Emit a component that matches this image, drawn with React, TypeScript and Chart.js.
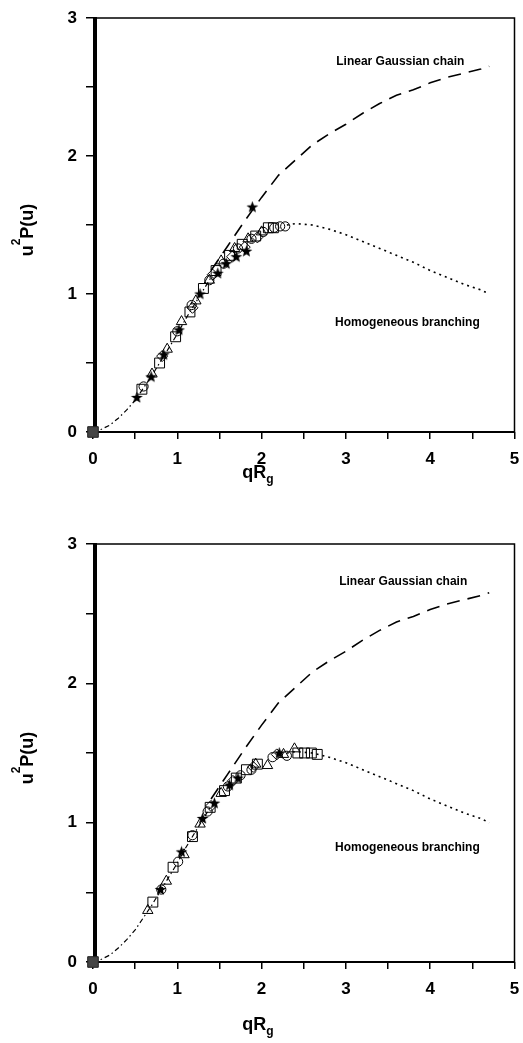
import React, { useEffect, useRef } from 'react';
import { Chart, registerables } from 'chart.js';
Chart.register(...registerables);

const FONT = '"Liberation Sans", Arial, Helvetica, sans-serif';

// ---- model curves (same in both panels) ----
const linearX = [1.4, 1.5, 1.6, 1.8, 2.0, 2.2, 2.4, 2.6, 2.8, 3.0, 3.2, 3.4, 3.6, 3.8, 4.0, 4.2, 4.4, 4.6, 4.7];
const linearY = [1.17, 1.26, 1.35, 1.53, 1.70, 1.86, 1.97, 2.08, 2.16, 2.23, 2.31, 2.38, 2.44, 2.48, 2.53, 2.57, 2.60, 2.63, 2.65];
const branchX = [2.3, 2.4, 2.6, 2.8, 3.0, 3.2, 3.4, 3.6, 3.8, 4.0, 4.2, 4.4, 4.6, 4.7];
const branchY = [1.50, 1.51, 1.50, 1.47, 1.43, 1.38, 1.33, 1.28, 1.23, 1.17, 1.12, 1.07, 1.03, 1.00];
const lowX = [0, 0.1, 0.2, 0.3, 0.4, 0.5, 0.6, 0.7, 0.8, 0.9, 1.0, 1.1, 1.2, 1.3, 1.4];
const lowY = [0, 0.02, 0.05, 0.10, 0.16, 0.23, 0.32, 0.41, 0.51, 0.61, 0.71, 0.82, 0.92, 1.02, 1.12];

// ---- top panel data ----
const topCircleX = [0.60, 1.00, 1.17, 1.38, 1.55, 1.72, 1.88, 2.02, 2.15, 2.22, 2.28];
const topCircleY = [0.33, 0.73, 0.92, 1.10, 1.22, 1.33, 1.40, 1.45, 1.48, 1.49, 1.49];
const topSquareX = [0.58, 0.79, 0.98, 1.15, 1.31, 1.46, 1.62, 1.77, 1.93, 2.08, 2.14];
const topSquareY = [0.31, 0.50, 0.69, 0.87, 1.04, 1.17, 1.28, 1.36, 1.42, 1.48, 1.48];
const topTriX = [0.70, 0.88, 1.05, 1.22, 1.38, 1.52, 1.68, 1.84, 2.00];
const topTriY = [0.42, 0.60, 0.80, 0.95, 1.10, 1.24, 1.33, 1.40, 1.45];
const topDiaX = [0.82, 1.18, 1.42, 1.65, 1.80, 1.95];
const topDiaY = [0.55, 0.90, 1.14, 1.27, 1.34, 1.41];
const topStarX = [0.52, 0.69, 0.84, 1.02, 1.27, 1.48, 1.58, 1.70, 1.82, 1.89];
const topStarY = [0.25, 0.40, 0.56, 0.74, 1.00, 1.15, 1.22, 1.27, 1.31, 1.63];

// ---- bottom panel data ----
const botSquareX = [0.71, 0.95, 1.18, 1.39, 1.56, 1.70, 1.82, 1.95, 2.43, 2.51, 2.59, 2.66];
const botSquareY = [0.43, 0.68, 0.90, 1.11, 1.23, 1.32, 1.38, 1.42, 1.50, 1.50, 1.50, 1.49];
const botTriX = [0.65, 0.87, 1.08, 1.27, 1.52, 1.93, 2.07, 2.26, 2.39];
const botTriY = [0.37, 0.58, 0.77, 0.99, 1.21, 1.42, 1.41, 1.49, 1.53];
const botCircleX = [0.81, 1.01, 1.18, 1.36, 1.60, 1.75, 1.88, 2.13, 2.30];
const botCircleY = [0.52, 0.72, 0.91, 1.08, 1.26, 1.34, 1.38, 1.47, 1.48];
const botStarX = [0.80, 1.05, 1.30, 1.44, 1.62, 1.72, 2.21];
const botStarY = [0.52, 0.79, 1.03, 1.14, 1.27, 1.32, 1.50];
const botDiaX = [1.40, 1.66, 1.90, 2.18];
const botDiaY = [1.12, 1.30, 1.40, 1.49];

const originX = [0];
const originY = [0];

const xTicks = [0, 1, 2, 3, 4, 5];
const yTicks = [0, 1, 2, 3];

const labelLinear = 'Linear Gaussian chain';
const labelBranch = 'Homogeneous branching';

const mk = (xs: number[], ys: number[]) => xs.map((x, i) => ({ x, y: ys[i] }));

function makeStar(): HTMLCanvasElement {
  const c = document.createElement('canvas');
  c.width = 13;
  c.height = 13;
  const g = c.getContext('2d')!;
  g.fillStyle = '#000';
  g.beginPath();
  const cx = 6.5, cy = 6.8, ro = 6.2, ri = 2.6;
  for (let i = 0; i < 10; i++) {
    const r = i % 2 === 0 ? ro : ri;
    const a = -Math.PI / 2 + (i * Math.PI) / 5;
    const px = cx + r * Math.cos(a);
    const py = cy + r * Math.sin(a);
    if (i === 0) g.moveTo(px, py);
    else g.lineTo(px, py);
  }
  g.closePath();
  g.fill();
  return c;
}

type Series = { xs: number[]; ys: number[] };
type PanelProps = {
  top: number;
  height: number;
  plotTop: number;
  plotBottom: number;
  yTitleY: number;
  xTitleBase: number;
  circles: Series;
  squares: Series;
  tris: Series;
  dias: Series;
  stars: Series;
  linPos: [number, number];
  brPos: [number, number];
};

function drawRich(ctx: CanvasRenderingContext2D, parts: { t: string; s: number; dy: number }[], x: number, y: number) {
  const widths = parts.map((p) => {
    ctx.font = `bold ${p.s}px ${FONT}`;
    return ctx.measureText(p.t).width;
  });
  const total = widths.reduce((a, b) => a + b, 0);
  let cx = x - total / 2;
  ctx.textAlign = 'left';
  ctx.textBaseline = 'alphabetic';
  parts.forEach((p, i) => {
    ctx.font = `bold ${p.s}px ${FONT}`;
    ctx.fillText(p.t, cx, y + p.dy);
    cx += widths[i];
  });
}

function Panel(props: PanelProps) {
  const ref = useRef<HTMLCanvasElement>(null);
  useEffect(() => {
    const star = makeStar();
    const framePlugin = {
      id: 'frame',
      beforeDatasetsDraw(chart: any) {
        const { ctx, chartArea: a } = chart;
        ctx.save();
        ctx.strokeStyle = '#000';
        ctx.lineWidth = 1.5;
        ctx.beginPath();
        ctx.moveTo(a.left, a.top);
        ctx.lineTo(a.right, a.top);
        ctx.lineTo(a.right, a.bottom);
        ctx.stroke();
        ctx.fillStyle = '#000';
        ctx.fillRect(a.left - 1, a.bottom - 1, a.right - a.left + 1, 2);
        ctx.fillRect(a.left, a.top - 1, 4, a.bottom - a.top + 2);
        ctx.restore();
      },
      afterDatasetsDraw(chart: any) {
        const { ctx, scales } = chart;
        const xs = scales.x, ys = scales.y;
        ctx.save();
        ctx.fillStyle = '#000';
        ctx.font = `bold 12px ${FONT}`;
        ctx.textAlign = 'center';
        ctx.textBaseline = 'middle';
        ctx.fillText(labelLinear, xs.getPixelForValue(props.linPos[0]), ys.getPixelForValue(props.linPos[1]));
        ctx.fillText(labelBranch, xs.getPixelForValue(props.brPos[0]), ys.getPixelForValue(props.brPos[1]));
        // x title qR_g
        drawRich(ctx, [
          { t: 'qR', s: 18, dy: 0 },
          { t: 'g', s: 12, dy: 5 },
        ], 258, props.xTitleBase);
        // y title u^2P(u)
        ctx.translate(33, props.yTitleY);
        ctx.rotate(-Math.PI / 2);
        drawRich(ctx, [
          { t: 'u', s: 18, dy: 0 },
          { t: '2', s: 12, dy: -13 },
          { t: 'P(u)', s: 18, dy: 0 },
        ], 0, 0);
        ctx.restore();
      },
    };
    const marker = (data: Series, style: any, r: number, rot = 0) => ({
      data: mk(data.xs, data.ys),
      pointStyle: style,
      pointRadius: r,
      pointRotation: rot,
      pointBorderColor: '#000',
      pointBackgroundColor: 'rgba(255,255,255,0)',
      pointBorderWidth: 1,
      showLine: false,
      clip: false as any,
      order: 1,
    });
    const line = (xs: number[], ys: number[], dash: number[], w: number) => ({
      data: mk(xs, ys),
      showLine: true,
      pointRadius: 0,
      borderColor: '#000',
      borderWidth: w,
      borderDash: dash,
      fill: false,
      order: 10,
      clip: false as any,
    });
    const chart = new Chart(ref.current!, {
      type: 'scatter',
      data: {
        datasets: [
          marker(props.squares, 'rect', 7),
          marker(props.circles, 'circle', 4.6),
          marker(props.tris, 'triangle', 6),
          marker(props.dias, 'rectRot', 5.5),
          marker(props.stars, star, 6),
          {
            data: mk(originX, originY),
            pointStyle: 'rect',
            pointRadius: 7.5,
            pointBorderColor: '#222',
            pointBackgroundColor: '#444',
            pointBorderWidth: 1,
            showLine: false,
            clip: false as any,
            order: 0,
          },
          line(lowX, lowY, [5, 3, 1.5, 3], 1.2),
          line(linearX, linearY, [13, 8], 1.6),
          line(branchX, branchY, [2, 4], 1.6),
        ] as any,
      },
      options: {
        responsive: false,
        animation: false,
        events: [],
        layout: { padding: { top: props.plotTop, right: 8, left: 0, bottom: 0 } },
        plugins: { legend: { display: false }, tooltip: { enabled: false } },
        scales: {
          x: {
            type: 'linear',
            min: 0,
            max: 5,
            afterFit: (s: any) => {
              s.height = props.height - props.plotBottom;
              s.paddingLeft = 0;
              s.paddingRight = 0;
            },
            ticks: {
              stepSize: 0.5,
              autoSkip: false,
              maxRotation: 0,
              padding: 10,
              color: '#000',
              font: { family: FONT, size: 17, weight: 'bold' },
              callback: (v: any) => (xTicks.includes(Number(v)) ? String(v) : ''),
            },
            grid: { drawOnChartArea: false, drawTicks: true, tickLength: 7, color: '#000', lineWidth: 1.5 },
            border: { display: false },
          },
          y: {
            type: 'linear',
            min: 0,
            max: 3,
            afterFit: (s: any) => {
              s.width = 93;
              s.paddingTop = 0;
              s.paddingBottom = 0;
            },
            ticks: {
              stepSize: 0.5,
              autoSkip: false,
              padding: 9,
              color: '#000',
              font: { family: FONT, size: 17, weight: 'bold' },
              callback: (v: any) => (yTicks.includes(Number(v)) ? String(v) : ''),
            },
            grid: { drawOnChartArea: false, drawTicks: true, tickLength: 7, color: '#000', lineWidth: 1.5 },
            border: { display: false },
          },
        },
      } as any,
      plugins: [framePlugin as any],
    });
    return () => chart.destroy();
  }, []);
  return (
    <canvas
      ref={ref}
      width={523}
      height={props.height}
      style={{ position: 'absolute', left: 0, top: props.top, display: 'block' }}
    />
  );
}

export default function App() {
  useEffect(() => {
    document.body.style.margin = '0';
  }, []);
  return (
    <div style={{ position: 'relative', width: 523, height: 1043, background: '#fff' }}>
      <Panel
        top={0}
        height={520}
        plotTop={18}
        plotBottom={432}
        yTitleY={230}
        xTitleBase={478}
        circles={{ xs: topCircleX, ys: topCircleY }}
        squares={{ xs: topSquareX, ys: topSquareY }}
        tris={{ xs: topTriX, ys: topTriY }}
        dias={{ xs: topDiaX, ys: topDiaY }}
        stars={{ xs: topStarX, ys: topStarY }}
        linPos={[3.645, 2.68]}
        brPos={[3.73, 0.795]}
      />
      <Panel
        top={520}
        height={523}
        plotTop={24}
        plotBottom={442}
        yTitleY={238}
        xTitleBase={510}
        circles={{ xs: botCircleX, ys: botCircleY }}
        squares={{ xs: botSquareX, ys: botSquareY }}
        tris={{ xs: botTriX, ys: botTriY }}
        dias={{ xs: botDiaX, ys: botDiaY }}
        stars={{ xs: botStarX, ys: botStarY }}
        linPos={[3.68, 2.73]}
        brPos={[3.73, 0.82]}
      />
    </div>
  );
}
